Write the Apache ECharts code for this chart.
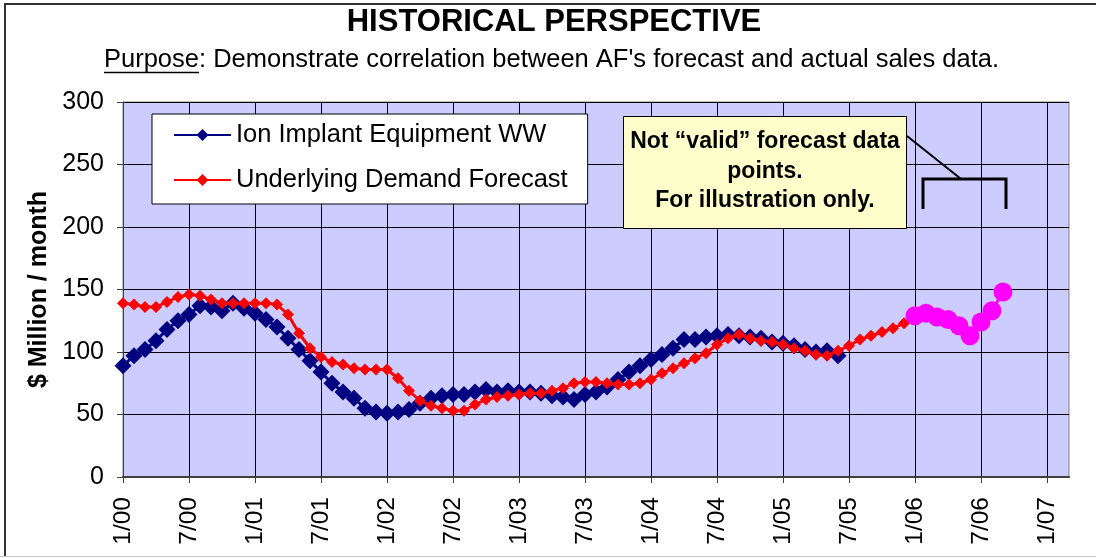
<!DOCTYPE html>
<html><head><meta charset="utf-8">
<script src="https://cdn.jsdelivr.net/npm/echarts/dist/echarts.min.js"></script>
<style>html,body{margin:0;padding:0;background:#fff}#c{width:1096px;height:558px}</style>
</head><body><div id="c"></div>
<script>
// ---- data ----
const startYear = 2000, endYear = 2007, endMonth = 3;
const categories = [];
for (let y = startYear; y <= endYear; y++) {
  for (let m = 1; m <= 12; m++) {
    if (y === endYear && m > endMonth) break;
    categories.push(m + '/' + String(y % 100).padStart(2, '0'));
  }
}
const tickEvery = 6; // label every 6 months
const ionImplantWW = [
  89, 97, 102, 109, 118, 125, 130, 137, 136, 133, 139, 135,
  131, 126, 120, 111, 102, 93, 84, 75, 68, 63, 55, 52,
  51, 52, 54, 59, 63, 65, 66, 66, 68, 70, 68, 69,
  68, 68, 67, 65, 64, 62, 66, 68, 72, 78, 84, 89,
  94, 98, 103, 110, 110, 112, 113, 114, 113, 112, 111, 108,
  107, 105, 102, 100, 101, 97
];
const demandForecast = [
  139, 138, 136, 136, 140, 144, 146, 145, 142, 139, 139, 139,
  139, 139, 138, 130, 115, 103, 96, 92, 90, 87, 86, 86,
  86, 79, 69, 61, 57, 55, 53, 53, 58, 62, 64, 65,
  66, 67, 67, 69, 71, 75, 76, 76, 75, 74, 74, 75,
  78, 83, 87, 91, 95, 99, 106, 111, 114, 111, 109, 108,
  106, 103, 101, 98, 97, 101, 105, 110, 113, 116, 119, 123,
  127
];
const illustrativeStart = '1/06';
const illustrativePoints = [129, 131, 128, 126, 121, 113, 124, 133, 148];
const yMin = 0, yMax = 300, yStep = 50;

const seriesNames = ['Ion Implant Equipment WW', 'Underlying Demand Forecast'];
const titleText = 'HISTORICAL PERSPECTIVE';
const purposeWord = 'Purpose';
const purposeRest = ": Demonstrate correlation between AF's forecast and actual sales data.";
const noteLines = ['Not \u201cvalid\u201d forecast data', 'points.', 'For illustration only.'];

// ---- build ----
const startIdx = categories.indexOf(illustrativeStart);
const illustrativeSeries = categories.map((c, i) =>
  (i >= startIdx && i - startIdx < illustrativePoints.length) ? illustrativePoints[i - startIdx] : '-');

const FONT = '"Liberation Sans", Arial, sans-serif';
const ctx = document.createElement('canvas').getContext('2d');
const subSize = 25.5;
ctx.font = subSize + 'px ' + FONT;
const wPurpose = ctx.measureText(purposeWord).width;
const wAll = ctx.measureText(purposeWord + purposeRest).width;
const subCenter = 551.5;
const subLeft = subCenter - wAll / 2;
const subY = 60;

const chart = echarts.init(document.getElementById('c'), null, {renderer: 'canvas'});
const onTick = (i) => i % tickEvery === 0;

chart.setOption({
  animation: false,
  backgroundColor: '#fff',
  textStyle: {fontFamily: FONT},
  grid: {
    left: 123, right: 27, top: 102, bottom: 81,
    show: true, backgroundColor: '#CCCCFF', borderColor: '#808080', borderWidth: 1
  },
  legend: {
    data: seriesNames,
    orient: 'vertical',
    left: 152, top: 114,
    backgroundColor: '#fff',
    borderColor: '#000', borderWidth: 1,
    padding: [6, 20, 9, 21],
    itemWidth: 57, itemHeight: 15, itemGap: 15,
    textStyle: {fontSize: 25.5, color: '#000', lineHeight: 30, fontFamily: FONT},
    selectedMode: false
  },
  xAxis: {
    type: 'category',
    data: categories,
    boundaryGap: false,
    axisLine: {lineStyle: {color: '#404040', width: 2}},
    axisTick: {interval: onTick, length: 6, lineStyle: {color: '#404040'}},
    axisLabel: {interval: onTick, rotate: 90, fontSize: 24.5, margin: 20, color: '#000', fontFamily: FONT},
    splitLine: {show: true, interval: onTick, lineStyle: {color: '#000', width: 1}}
  },
  yAxis: {
    type: 'value',
    min: yMin, max: yMax, interval: yStep,
    name: '$ Million / month',
    nameLocation: 'middle',
    nameGap: 70,
    nameTextStyle: {fontSize: 25, fontWeight: 'bold', color: '#000', fontFamily: FONT},
    axisLine: {show: true, lineStyle: {color: '#404040', width: 1}},
    axisTick: {show: true, length: 6, lineStyle: {color: '#404040'}},
    axisLabel: {fontSize: 25, margin: 19, color: '#000', fontFamily: FONT},
    splitLine: {show: true, lineStyle: {color: '#000', width: 1}}
  },
  series: [
    {
      name: seriesNames[0], type: 'line', data: ionImplantWW,
      symbol: 'diamond', symbolSize: 17, showSymbol: true, showAllSymbol: true,
      lineStyle: {color: '#000080', width: 3},
      itemStyle: {color: '#000080'}, z: 2
    },
    {
      name: seriesNames[1], type: 'line', data: demandForecast,
      symbol: 'diamond', symbolSize: 12, showSymbol: true, showAllSymbol: true,
      lineStyle: {color: '#FF0000', width: 3},
      itemStyle: {color: '#FF0000'}, z: 3
    },
    {
      name: 'illustration', type: 'line', data: illustrativeSeries,
      symbol: 'circle', symbolSize: 19, showSymbol: true, showAllSymbol: true,
      lineStyle: {color: '#FF00FF', width: 3},
      itemStyle: {color: '#FF00FF'}, z: 4
    }
  ],
  graphic: [
    // outer frame
    {type: 'polyline', shape: {points: [[5, 556], [5, 4], [1096, 4]]}, style: {stroke: '#333', lineWidth: 2, fill: null}, z: 10},
    {type: 'line', shape: {x1: 0, y1: 556.5, x2: 1096, y2: 556.5}, style: {stroke: '#c8c8c8', lineWidth: 1}, z: 10},
    // title
    {type: 'text', x: 554, y: 22, style: {text: titleText, font: 'bold 31px ' + FONT, fill: '#000', textAlign: 'center', textVerticalAlign: 'middle'}, z: 10},
    {type: 'text', x: subLeft, y: subY, style: {text: purposeWord, font: subSize + 'px ' + FONT, fill: '#000', textAlign: 'left', textVerticalAlign: 'middle'}, z: 10},
    {type: 'text', x: subLeft + wPurpose, y: subY, style: {text: purposeRest, font: subSize + 'px ' + FONT, fill: '#000', textAlign: 'left', textVerticalAlign: 'middle'}, z: 10},
    {type: 'line', shape: {x1: subLeft, y1: subY + 12.5, x2: subLeft + wPurpose, y2: subY + 12.5}, style: {stroke: '#000', lineWidth: 1.5}, z: 10},
    // note box
    {type: 'rect', shape: {x: 623.5, y: 116.5, width: 283, height: 112}, style: {fill: '#FFFFCC', stroke: '#000', lineWidth: 1}, z: 20},
    {type: 'text', x: 765, y: 142, style: {text: noteLines[0], font: 'bold 23px ' + FONT, fill: '#000', textAlign: 'center', textVerticalAlign: 'middle'}, z: 21},
    {type: 'text', x: 765, y: 172, style: {text: noteLines[1], font: 'bold 23px ' + FONT, fill: '#000', textAlign: 'center', textVerticalAlign: 'middle'}, z: 21},
    {type: 'text', x: 765, y: 201, style: {text: noteLines[2], font: 'bold 23px ' + FONT, fill: '#000', textAlign: 'center', textVerticalAlign: 'middle'}, z: 21},
    {type: 'line', shape: {x1: 907, y1: 136, x2: 961, y2: 179}, style: {stroke: '#000', lineWidth: 2}, z: 20},
    {type: 'polyline', shape: {points: [[923, 209], [923, 179], [1006, 179], [1006, 209]]}, style: {stroke: '#000', lineWidth: 3, fill: null}, z: 20}
  ]
});
</script>
</body></html>
